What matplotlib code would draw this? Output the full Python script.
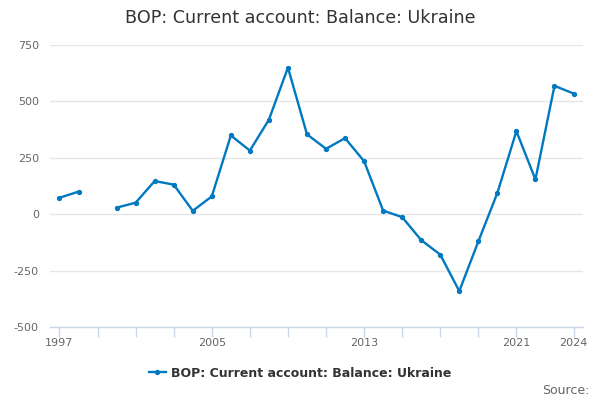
import numpy as np
import matplotlib
matplotlib.use('Agg')
import matplotlib.pyplot as plt

years = list(range(1997, 2025))
values = [73, 100, np.nan, 29, 51, 147, 131, 15, 79, 349, 282, 419, 650,
          354, 290, 337, 235, 16, -13, -115, -179, -341, -121, 94, 368, 154, 569, 535]
series_name = 'BOP: Current account: Balance: Ukraine'
title = 'BOP: Current account: Balance: Ukraine'
yticks = [-500, -250, 0, 250, 500, 750]
xtick_pos = list(range(1997, 2022, 2)) + [2024]
xtick_labels = {1997: '1997', 2005: '2005', 2013: '2013', 2021: '2021', 2024: '2024'}

col = '#0079c1'
axcol = '#ccd6eb'

fig = plt.figure(figsize=(6, 4), dpi=100)
ax = fig.add_axes([0.0833, 0.1825, 0.8884, 0.705])

ax.plot(years, values, color=col, linewidth=1.7, marker='o', markersize=2.8, label=series_name)

ax.set_xlim(1996.5, 2024.5)
ax.set_ylim(-500, 750)
ax.set_yticks(yticks)
ax.set_yticklabels([str(v) for v in yticks])
ax.set_xticks(xtick_pos)
ax.set_xticklabels([xtick_labels.get(p, '') for p in xtick_pos])

ax.grid(axis='y', color='#e6e6e6', linewidth=1)
ax.set_axisbelow(True)
for s in ['top', 'right', 'left']:
    ax.spines[s].set_visible(False)
ax.spines['bottom'].set_color(axcol)
ax.spines['bottom'].set_linewidth(1)
ax.tick_params(axis='x', colors=axcol, length=7, width=1, labelcolor='#666666', labelsize=8, pad=1)
ax.tick_params(axis='y', length=0, labelcolor='#666666', labelsize=8, pad=8)

fig.text(0.5, 0.955, title, ha='center', va='center', fontsize=12.6, color='#333333')
leg = fig.legend(loc='center', bbox_to_anchor=(0.5, 0.067), frameon=False,
                 prop={'weight': 'bold', 'size': 9}, handlelength=1.4, handletextpad=0.4)
for t in leg.get_texts():
    t.set_color('#333333')
fig.text(0.982, 0.025, 'Source:', ha='right', va='center', fontsize=9, color='#666666')

fig.savefig('out.png', dpi=100)
